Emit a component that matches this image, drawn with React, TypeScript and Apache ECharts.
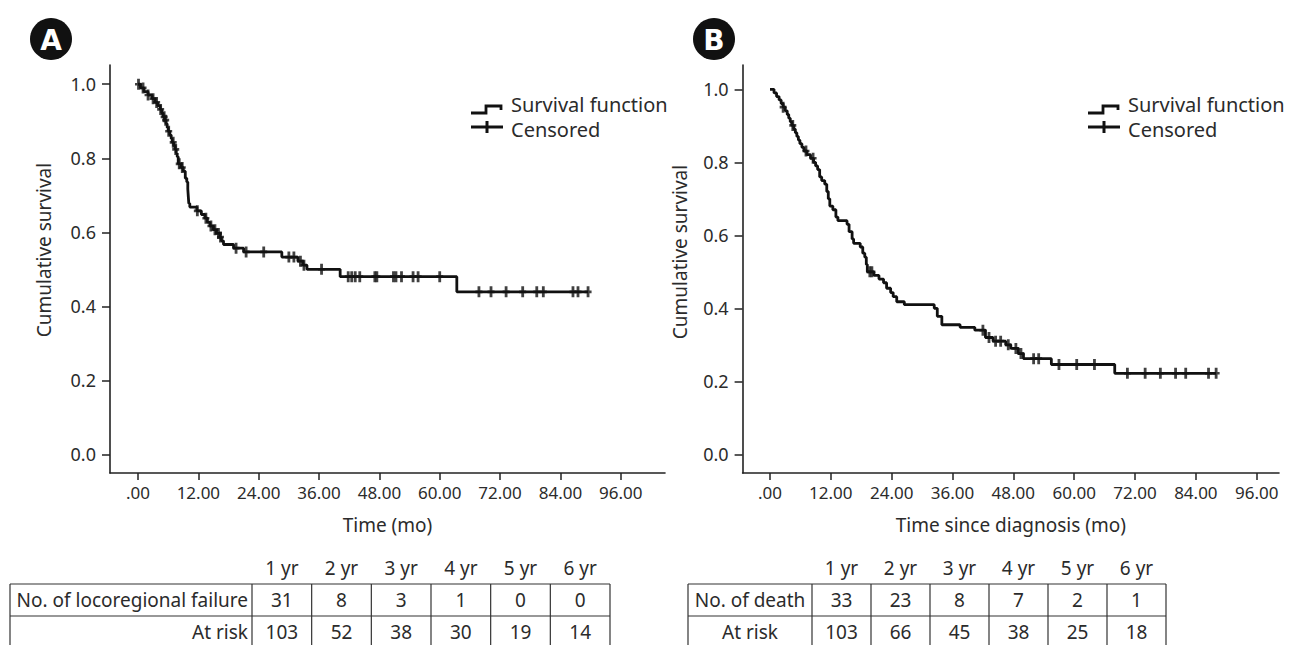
import React, { useEffect, useRef } from "react";
import * as echarts from "echarts";

// ---------- Data ----------
const X_TICKS = [0, 12, 24, 36, 48, 60, 72, 84, 96];
const Y_TICKS = [0, 0.2, 0.4, 0.6, 0.8, 1.0];

// Panel A: locoregional failure (Kaplan-Meier steps)
const A_TIMES = [0, 0.5, 1.2, 2.0, 2.8, 3.4, 3.9, 4.4, 4.7, 5.0, 5.3, 5.6, 5.8, 6.0, 6.3, 6.6, 6.8, 7.1, 7.4, 7.6, 7.8, 8.0, 8.6, 9.0, 9.4, 9.7, 9.9, 10.0, 10.1, 10.3, 11.7, 12.6, 13.3, 13.8, 14.3, 15.0, 15.6, 16.3, 16.6, 17.0, 19.0, 21.0, 28.6, 31.8, 32.8, 33.6, 40.2, 63.4];
const A_SURV = [1.0, 0.99, 0.98, 0.971, 0.961, 0.951, 0.942, 0.932, 0.922, 0.912, 0.903, 0.893, 0.883, 0.873, 0.863, 0.853, 0.843, 0.834, 0.824, 0.814, 0.804, 0.785, 0.775, 0.765, 0.746, 0.736, 0.717, 0.697, 0.678, 0.668, 0.658, 0.648, 0.638, 0.627, 0.617, 0.607, 0.597, 0.587, 0.577, 0.567, 0.557, 0.547, 0.533, 0.522, 0.511, 0.5, 0.48, 0.439];
const A_CENSOR = [0.1, 1.0, 2.0, 3.0, 3.7, 4.5, 5.2, 5.5, 6.1, 7.0, 7.5, 8.2, 8.8, 11.8, 13.5, 14.5, 15.3, 16.0, 16.4, 19.5, 21.5, 25.0, 30.0, 31.0, 32.3, 33.0, 36.5, 41.8, 42.5, 43.2, 44.1, 47.1, 47.5, 50.8, 51.3, 52.4, 54.7, 55.7, 60.0, 67.8, 70.2, 73.2, 76.5, 79.3, 80.6, 86.5, 87.5, 89.5];
const A_END = 89.5;

// Panel B: overall survival
const B_TIMES = [0, 0.8, 1.3, 1.8, 2.2, 2.6, 3.0, 3.4, 3.7, 4.0, 4.3, 4.7, 5.0, 5.3, 5.6, 5.9, 6.3, 6.7, 7.3, 8.0, 8.6, 9.0, 9.4, 9.8, 10.2, 10.8, 11.2, 11.5, 11.8, 12.4, 13.0, 13.4, 15.2, 15.6, 16.2, 16.5, 17.8, 18.3, 18.7, 19.0, 19.2, 20.5, 21.5, 22.4, 23.0, 23.8, 24.3, 25.0, 26.5, 32.4, 33.0, 33.9, 37.5, 40.4, 42.5, 44.0, 46.5, 47.5, 49.0, 50.0, 55.5, 68.0];
const B_SURV = [1.0, 0.99, 0.98, 0.971, 0.961, 0.951, 0.941, 0.931, 0.921, 0.911, 0.901, 0.891, 0.881, 0.871, 0.861, 0.851, 0.841, 0.831, 0.821, 0.811, 0.8, 0.79, 0.78, 0.76, 0.75, 0.74, 0.72, 0.7, 0.68, 0.67, 0.65, 0.64, 0.63, 0.61, 0.59, 0.578, 0.568, 0.551, 0.54, 0.52, 0.5, 0.49, 0.48, 0.47, 0.455, 0.443, 0.432, 0.418, 0.41, 0.4, 0.378, 0.355, 0.348, 0.34, 0.32, 0.31, 0.3, 0.29, 0.276, 0.262, 0.246, 0.222];
const B_CENSOR = [2.6, 4.5, 7.1, 8.5, 19.7, 20.1, 42.0, 43.2, 44.5, 45.5, 47.0, 48.5, 49.5, 52.0, 53.0, 57.0, 60.5, 64.0, 70.5, 74.0, 77.0, 80.0, 82.0, 86.5, 88.0];
const B_END = 88.0;

// Risk tables
const YEARS = ["1 yr", "2 yr", "3 yr", "4 yr", "5 yr", "6 yr"];
const A_EVENTS = [31, 8, 3, 1, 0, 0];
const A_RISK = [103, 52, 38, 30, 19, 14];
const B_EVENTS = [33, 23, 8, 7, 2, 1];
const B_RISK = [103, 66, 45, 38, 25, 18];

// ---------- helpers ----------
const FONT = "Noto Sans";
const TXT = "#2b2b2b";

function stepValue(times: number[], surv: number[], t: number) {
  let v = surv[0];
  for (let i = 0; i < times.length; i++) {
    if (times[i] <= t) v = surv[i];
  }
  return v;
}

function lineData(times: number[], surv: number[], end: number) {
  const d = times.map((t, i) => [t, surv[i]]);
  d.push([end, surv[surv.length - 1]]);
  return d;
}

function censorData(times: number[], surv: number[], cens: number[]) {
  return cens.map((t) => [t, stepValue(times, surv, t)]);
}

const PLUS =
  "path://M3,0 L7,0 L7,3.8 L10,3.8 L10,6.2 L7,6.2 L7,10 L3,10 L3,6.2 L0,6.2 L0,3.8 L3,3.8 Z";

function xAxisCfg(grid: number, min: number, max: number, name: string) {
  return {
    type: "value",
    gridIndex: grid,
    min,
    max,
    name,
    nameLocation: "middle",
    nameGap: 42,
    nameTextStyle: { fontSize: 19, color: TXT, fontFamily: FONT },
    axisLine: { show: true, onZero: false, lineStyle: { color: "#222", width: 1.6 } },
    axisTick: { show: true, customValues: X_TICKS, length: 7, lineStyle: { color: "#222", width: 1.5 } },
    axisLabel: {
      customValues: X_TICKS,
      formatter: (v: number) => (v === 0 ? ".00" : v.toFixed(2)),
      margin: 11,
      fontSize: 17,
      color: TXT,
      fontFamily: FONT,
    },
    splitLine: { show: false },
  };
}

function yAxisCfg(grid: number, min: number, max: number) {
  return {
    type: "value",
    gridIndex: grid,
    min,
    max,
    axisLine: { show: true, onZero: false, lineStyle: { color: "#222", width: 1.6 } },
    axisTick: { show: true, customValues: Y_TICKS, length: 8, lineStyle: { color: "#222", width: 1.5 } },
    axisLabel: {
      customValues: Y_TICKS,
      formatter: (v: number) => v.toFixed(1),
      margin: 14,
      fontSize: 18,
      color: TXT,
      fontFamily: FONT,
    },
    splitLine: { show: false },
  };
}

function legend(x: number, y: number) {
  const ls = { stroke: "#111", lineWidth: 2.8, fill: "none" };
  return [
    {
      type: "polyline",
      shape: { points: [[x, y + 9], [x + 15, y + 9], [x + 15, y + 2], [x + 30, y + 2], [x + 30, y + 6]] },
      style: ls,
    },
    { type: "line", shape: { x1: x, y1: y + 23, x2: x + 32, y2: y + 23 }, style: { stroke: "#111", lineWidth: 3 } },
    { type: "line", shape: { x1: x + 16, y1: y + 17, x2: x + 16, y2: y + 29 }, style: { stroke: "#111", lineWidth: 3 } },
    {
      type: "text",
      x: x + 40,
      y: y,
      style: { text: "Survival function", fontSize: 20, fill: TXT, fontFamily: FONT, textVerticalAlign: "middle" },
    },
    {
      type: "text",
      x: x + 40,
      y: y + 25,
      style: { text: "Censored", fontSize: 20, fill: TXT, fontFamily: FONT, textVerticalAlign: "middle" },
    },
  ];
}

function badge(cx: number, cy: number, letter: string) {
  return [
    { type: "circle", shape: { cx, cy, r: 21 }, style: { fill: "#111" } },
    {
      type: "text",
      x: cx,
      y: cy + 1,
      style: {
        text: letter,
        fontSize: 28,
        fontWeight: "bold",
        fill: "#fff",
        stroke: "#111",
        lineWidth: 1,
        fontFamily: "DejaVu Sans",
        textAlign: "center",
        textVerticalAlign: "middle",
      },
    },
  ];
}

function table(
  left: number,
  labelRight: number,
  right: number,
  top: number,
  rowH: number,
  labels: string[],
  rows: number[][],
  labelAlign: "right" | "center"
) {
  const els: any[] = [];
  const n = YEARS.length;
  const colW = (right - labelRight) / n;
  const bottom = top + rowH * 2;
  const st = { stroke: "#333", lineWidth: 1.2 };
  [top, top + rowH, bottom].forEach((y) =>
    els.push({ type: "line", shape: { x1: left, y1: y, x2: right, y2: y }, style: st })
  );
  const xs = [left, labelRight];
  for (let i = 1; i <= n; i++) xs.push(labelRight + colW * i);
  xs.forEach((x) => els.push({ type: "line", shape: { x1: x, y1: top, x2: x, y2: bottom }, style: st }));
  YEARS.forEach((yr, i) =>
    els.push({
      type: "text",
      x: labelRight + colW * (i + 0.5),
      y: top - 16,
      style: { text: yr, fontSize: 19, fill: TXT, fontFamily: FONT, textAlign: "center", textVerticalAlign: "middle" },
    })
  );
  rows.forEach((row, r) => {
    const cy = top + rowH * (r + 0.5);
    els.push({
      type: "text",
      x: labelAlign === "right" ? labelRight - 4 : (left + labelRight) / 2,
      y: cy,
      style: {
        text: labels[r],
        fontSize: 19,
        fill: TXT,
        fontFamily: FONT,
        textAlign: labelAlign,
        textVerticalAlign: "middle",
      },
    });
    row.forEach((v, i) =>
      els.push({
        type: "text",
        x: labelRight + colW * (i + 0.5),
        y: cy,
        style: { text: String(v), fontSize: 19, fill: TXT, fontFamily: FONT, textAlign: "center", textVerticalAlign: "middle" },
      })
    );
  });
  return els;
}

function yName(x: number, y: number) {
  return {
    type: "text",
    x,
    y,
    rotation: Math.PI / 2,
    style: {
      text: "Cumulative survival",
      fontSize: 19,
      fill: TXT,
      fontFamily: FONT,
      textAlign: "center",
      textVerticalAlign: "middle",
    },
  };
}

export default function App() {
  const ref = useRef<HTMLDivElement>(null);
  useEffect(() => {
    if (!ref.current) return;
    const chart = echarts.init(ref.current, undefined, { renderer: "svg" });
    const survLine = (xi: number, data: number[][]) => ({
      type: "line",
      xAxisIndex: xi,
      yAxisIndex: xi,
      step: "end",
      data,
      showSymbol: false,
      symbol: "none",
      lineStyle: { color: "#111", width: 2.8 },
      silent: true,
    });
    const censor = (xi: number, data: number[][]) => ({
      type: "scatter",
      xAxisIndex: xi,
      yAxisIndex: xi,
      data,
      symbol: PLUS,
      symbolSize: [7, 11],
      itemStyle: { color: "#111" },
      silent: true,
    });
    chart.setOption({
      animation: false,
      backgroundColor: "#fff",
      textStyle: { fontFamily: FONT },
      grid: [
        { left: 110, top: 65, width: 555, height: 408 },
        { left: 742.6, top: 65, width: 536.4, height: 408 },
      ],
      xAxis: [xAxisCfg(0, -5.57, 104.8, "Time (mo)"), xAxisCfg(1, -5.4, 100.4, "Time since diagnosis (mo)")],
      yAxis: [yAxisCfg(0, -0.0505, 1.052), yAxisCfg(1, -0.0512, 1.0666)],
      series: [
        survLine(0, lineData(A_TIMES, A_SURV, A_END)),
        censor(0, censorData(A_TIMES, A_SURV, A_CENSOR)),
        survLine(1, lineData(B_TIMES, B_SURV, B_END)),
        censor(1, censorData(B_TIMES, B_SURV, B_CENSOR)),
      ],
      graphic: [
        ...badge(51, 39, "A"),
        ...badge(714, 39, "B"),
        ...legend(471, 104),
        ...legend(1088, 104),
        yName(44, 250),
        yName(680, 252),
        ...table(10, 252, 610, 584, 32, ["No. of locoregional failure", "At risk"], [A_EVENTS, A_RISK], "right"),
        ...table(688, 812, 1166, 584, 32, ["No. of death", "At risk"], [B_EVENTS, B_RISK], "center"),
      ],
    });
    return () => chart.dispose();
  }, []);
  return (
    <div
      ref={ref}
      style={{ position: "absolute", left: 0, top: 0, width: 1295, height: 645, background: "#fff" }}
    />
  );
}
